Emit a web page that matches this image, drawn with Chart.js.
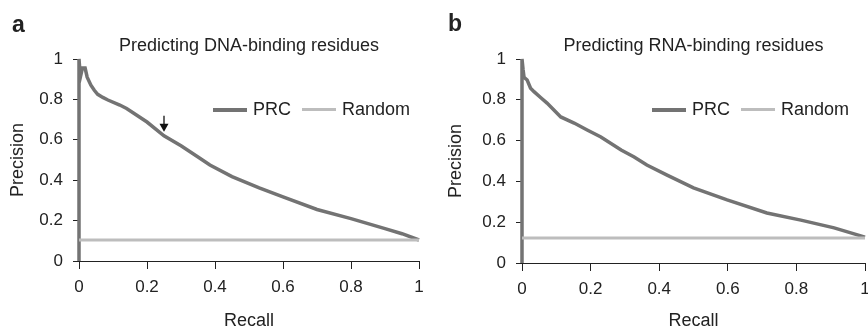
<!DOCTYPE html>
<html>
<head>
<meta charset="utf-8">
<script src="https://cdn.jsdelivr.net/npm/chart.js@4.4.1/dist/chart.umd.min.js"></script>
<style>
  html, body { margin: 0; padding: 0; background: #fff; }
  body { width: 868px; height: 330px; overflow: hidden; position: relative;
         font-family: "Liberation Sans", Arial, Helvetica, sans-serif; color: #222; }
  .panel { position: absolute; top: 0; height: 330px; }
  .letter { position: absolute; font-weight: bold; font-size: 23px; line-height: 1; }
  .legend { position: absolute; display: flex; align-items: center; font-size: 18px; white-space: nowrap; }
  .legend .sw { display: inline-block; width: 34px; margin-right: 6px; }
  .legend .lbl { margin-right: 11px; }
</style>
</head>
<body>
<div class="panel" style="left:0;width:434px"><canvas id="chartA" width="434" height="330"></canvas></div>
<div class="panel" style="left:434px;width:446px"><canvas id="chartB" width="446" height="330"></canvas></div>
<div class="letter" style="left:12px;top:13px">a</div>
<div class="letter" style="left:448px;top:12px">b</div>
<div class="legend" style="left:213px;top:99px">
  <span class="sw" style="height:4px;background:#737373"></span><span class="lbl">PRC</span>
  <span class="sw" style="height:3px;background:#bdbdbd"></span><span>Random</span>
</div>
<div class="legend" style="left:652px;top:99px">
  <span class="sw" style="height:4px;background:#737373"></span><span class="lbl">PRC</span>
  <span class="sw" style="height:3px;background:#bdbdbd"></span><span>Random</span>
</div>
<script>
// DNA panel
const dnaRecall = [0, 0, 0.004, 0.01, 0.018, 0.024, 0.035, 0.045, 0.055, 0.07, 0.085, 0.12, 0.14, 0.16, 0.2, 0.25, 0.3, 0.35, 0.385, 0.45, 0.53, 0.6, 0.7, 0.8, 0.9, 0.95, 1.0];
const dnaPrecision = [0, 1.0, 0.91, 0.955, 0.955, 0.91, 0.87, 0.845, 0.825, 0.81, 0.797, 0.772, 0.755, 0.733, 0.688, 0.62, 0.57, 0.515, 0.475, 0.418, 0.362, 0.317, 0.255, 0.21, 0.16, 0.135, 0.104];
const dnaRandom = [0.104, 0.104];

// RNA panel
const rnaRecall = [0, 0, 0.003, 0.006, 0.015, 0.025, 0.035, 0.055, 0.073, 0.113, 0.152, 0.19, 0.23, 0.289, 0.327, 0.364, 0.423, 0.5, 0.598, 0.714, 0.813, 0.91, 1.0];
const rnaPrecision = [0, 1.0, 0.95, 0.91, 0.897, 0.857, 0.84, 0.81, 0.784, 0.716, 0.686, 0.652, 0.618, 0.554, 0.52, 0.48, 0.431, 0.368, 0.309, 0.245, 0.21, 0.172, 0.127];
const rnaRandom = [0.123, 0.123];

const randomRecall = [0, 1];
const tickValues = [0, 0.2, 0.4, 0.6, 0.8, 1];

// arrow in panel a points at this spot on the curve
const arrowAt = { x: 0.25, y: 0.64 };

const FONT = "'Liberation Sans', Arial, Helvetica, sans-serif";
const ink = "#222";

function pts(xs, ys) {
  return xs.map((x, i) => ({ x: x, y: ys[i] }));
}

function makeChart(id, title, recall, precision, random, box, extraPlugins) {
  const ctx = document.getElementById(id).getContext("2d");
  return new Chart(ctx, {
    type: "line",
    data: {
      datasets: [
        {
          label: "Random",
          data: pts(randomRecall, random),
          borderColor: "#bdbdbd",
          borderWidth: 3,
          pointRadius: 0,
        },
        {
          label: "PRC",
          data: pts(recall, precision),
          borderColor: "#737373",
          borderWidth: 3.5,
          pointRadius: 0,
          clip: 4,
        },
      ],
    },
    options: {
      responsive: false,
      animation: false,
      events: [],
      layout: { padding: { left: 0, right: box.right, top: 0, bottom: 0 } },
      plugins: {
        legend: { display: false },
        tooltip: { enabled: false },
        title: {
          display: true,
          text: title,
          fullSize: false,
          color: ink,
          font: { family: FONT, size: 18, weight: "normal", lineHeight: 1.2 },
          padding: { top: 35, bottom: box.top - 35 - 21.6 },
        },
      },
      scales: {
        x: {
          type: "linear",
          min: 0,
          max: 1,
          afterBuildTicks: (s) => { s.ticks = tickValues.map((v) => ({ value: v })); },
          afterFit: (s) => { s.height = box.xh; },
          border: { display: true, color: ink, width: 1 },
          grid: { drawOnChartArea: false, drawTicks: true, tickLength: 8, color: ink },
          ticks: { color: ink, padding: 8, maxRotation: 0, font: { family: FONT, size: 17 },
                   callback: (v) => String(v) },
          title: {
            display: true,
            text: "Recall",
            color: ink,
            font: { family: FONT, size: 18, lineHeight: 1 },
            padding: { top: 0, bottom: 0 },
          },
        },
        y: {
          type: "linear",
          min: 0,
          max: 1,
          afterBuildTicks: (s) => { s.ticks = tickValues.map((v) => ({ value: v })); },
          afterFit: (s) => { s.width = box.yw; },
          border: { display: true, color: ink, width: 1 },
          grid: { drawOnChartArea: false, drawTicks: true, tickLength: 6, color: ink },
          ticks: { color: ink, padding: 10, font: { family: FONT, size: 17 },
                   callback: (v) => String(v) },
          title: {
            display: true,
            text: "Precision",
            color: ink,
            font: { family: FONT, size: 18, lineHeight: 1.2 },
            padding: { top: box.ytp, bottom: 0 },
          },
        },
      },
    },
    plugins: extraPlugins || [],
  });
}

// small down arrow above the curve
const arrowPlugin = {
  id: "arrow",
  afterDatasetsDraw(chart) {
    const c = chart.ctx;
    const x = chart.scales.x.getPixelForValue(arrowAt.x);
    const y = chart.scales.y.getPixelForValue(arrowAt.y);
    c.save();
    c.strokeStyle = "#111";
    c.fillStyle = "#111";
    c.lineWidth = 1.3;
    c.beginPath();
    c.moveTo(x, y - 16);
    c.lineTo(x, y - 6);
    c.stroke();
    c.beginPath();
    c.moveTo(x - 4.5, y - 8);
    c.lineTo(x + 4.5, y - 8);
    c.lineTo(x, y);
    c.closePath();
    c.fill();
    c.restore();
  },
};

makeChart("chartA", "Predicting DNA-binding residues", dnaRecall, dnaPrecision, dnaRandom,
  { right: 15, top: 59, xh: 69, yw: 79, ytp: 7 }, [arrowPlugin]);
makeChart("chartB", "Predicting RNA-binding residues", rnaRecall, rnaPrecision, rnaRandom,
  { right: 15, top: 59, xh: 67, yw: 88, ytp: 11 });
</script>
</body>
</html>
